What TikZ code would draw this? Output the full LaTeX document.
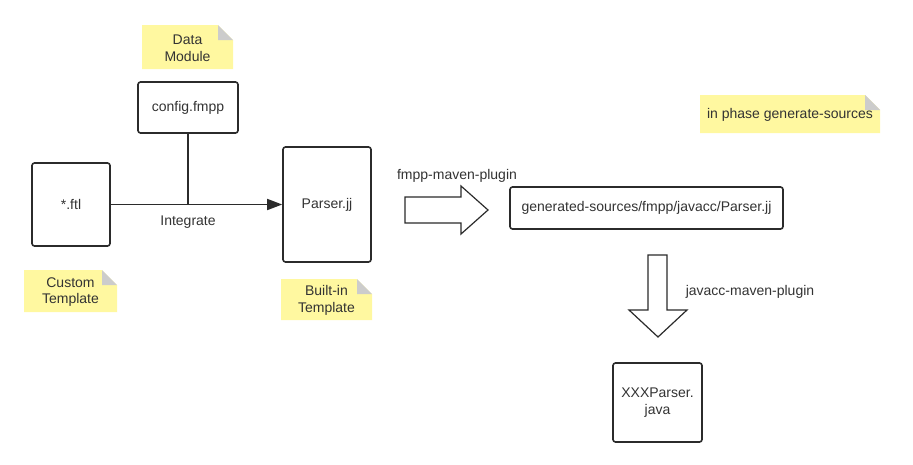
\documentclass[tikz,border=0pt]{standalone}
\usepackage{fontspec}
\setmainfont{Liberation Sans}
\usetikzlibrary{arrows.meta,calc}
\definecolor{txt}{HTML}{333333}
\definecolor{edge}{HTML}{2B2B2B}
\definecolor{noteY}{HTML}{FFF8A0}
\definecolor{foldG}{HTML}{CCCCCC}
\tikzset{
  box/.style={draw=edge,line width=1.6pt,rounded corners=2.5pt,fill=white,text=txt,align=center,inner sep=0pt,
    font=\fontsize{14}{16.5}\selectfont},
  lbl/.style={text=txt,font=\fontsize{14}{16.5}\selectfont,inner sep=0pt,align=center},
  fatarrow/.style={draw=edge,line width=1.2pt,fill=white,line join=miter},
}
% note: #1 name, #2 x1, #3 y1, #4 x2, #5 y2, #6 text
\newcommand{\mynote}[6]{%
  \fill[noteY] (#2,#3) -- ({#4-15},#3) -- (#4,{#3+15}) -- (#4,#5) -- (#2,#5) -- cycle;
  \fill[foldG] ({#4-15},#3) -- ({#4-15},{#3+15}) -- (#4,{#3+15}) -- cycle;
  \node[lbl] (#1) at ({(#2+#4)/2},{(#3+#5)/2+1}) {#6};
}
\begin{document}
\begin{tikzpicture}[x=1pt,y=-1pt]
\useasboundingbox[fill=white] (0,0) rectangle (913,464);
% notes
\mynote{nData}{142}{25}{233}{69}{Data\\Module}
\mynote{nCustom}{24}{270}{117}{312}{Custom\\Template}
\mynote{nBuilt}{281}{279}{372}{320}{Built-in\\Template}
\mynote{nPhase}{700}{95}{880}{133}{in phase generate-sources}
% boxes
\node[box,minimum width=100pt,minimum height=51pt] (cfg) at (188,107.5) {config.fmpp};
\node[box,minimum width=78pt,minimum height=83pt] (ftl) at (71,204.5) {*.ftl};
\node[box,minimum width=88pt,minimum height=115pt] (pjj) at (327,204.5) {Parser.jj};
\node[box,minimum width=273pt,minimum height=42pt] (gen) at (646.5,208) {generated-sources/fmpp/javacc/Parser.jj};
\node[box,minimum width=89pt,minimum height=79pt] (xxx) at (657.5,402.5) {XXXParser.\\java};
% connectors
\coordinate (j) at (cfg.south |- ftl.east);
\draw[edge,line width=1.6pt,-{Triangle[length=15pt,width=11pt]}] (ftl.east) -- (pjj.west);
\draw[edge,line width=1.6pt] (cfg.south) -- (j);
\node[lbl,below=11pt] (integ) at (j) {Integrate};
% fat arrows
\draw[fatarrow] (405,197) -- (461,197) -- (461,186) -- (488,210) -- (461,234) -- (461,223) -- (405,223) -- cycle;
\node[lbl] (fmppl) at (457,176) {fmpp-maven-plugin};
\draw[fatarrow] (648,255) -- (667,255) -- (667,310) -- (687,310) -- (658,337) -- (629,310) -- (648,310) -- cycle;
\node[lbl] (javl) at (750,292) {javacc-maven-plugin};
\end{tikzpicture}
\end{document}
